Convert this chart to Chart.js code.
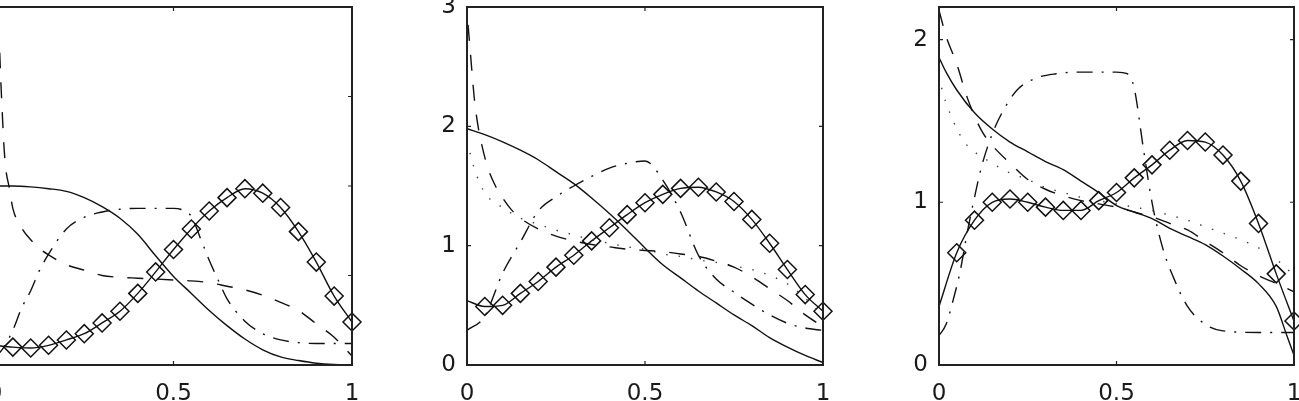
<!DOCTYPE html>
<html>
<head>
<meta charset="utf-8">
<script src="https://cdn.jsdelivr.net/npm/chart.js@4.4.1/dist/chart.umd.min.js"></script>
<style>
  html, body { margin: 0; padding: 0; background: #fff; width: 1299px; height: 401px; overflow: hidden; position: relative; }
  canvas { position: absolute; top: -20px; }
</style>
</head>
<body>
<canvas id="panel1" width="435" height="421" style="left:-59px"></canvas>
<canvas id="panel2" width="434" height="421" style="left:413px"></canvas>
<canvas id="panel3" width="433" height="421" style="left:885px"></canvas>
<script>
// shared x grid (diamond curves sit on 0.05 steps)
const gridX = [0, 0.05, 0.1, 0.15, 0.2, 0.25, 0.3, 0.35, 0.4, 0.45, 0.5,
               0.55, 0.6, 0.65, 0.7, 0.75, 0.8, 0.85, 0.9, 0.95, 1];
const xTicks = [0, 0.5, 1];

// PANEL 1
const p1YTicks = [0, 1, 2, 3, 4];
const p1SolidY = [2.00, 2.00, 1.99, 1.97, 1.94, 1.87, 1.77, 1.64, 1.46, 1.22, 0.99,
                  0.80, 0.61, 0.44, 0.29, 0.17, 0.09, 0.05, 0.02, 0.005, 0];
const p1DiamondY = [0.22, 0.20, 0.19, 0.22, 0.28, 0.35, 0.47, 0.60, 0.80, 1.04, 1.29,
                    1.52, 1.72, 1.87, 1.97, 1.92, 1.76, 1.49, 1.15, 0.77, 0.48];
const p1DashX = [0.005, 0.015, 0.02, 0.025, 0.03, 0.04, 0.05, 0.075, 0.1, 0.125, 0.15, 0.2,
                 0.25, 0.3, 0.35, 0.4, 0.45, 0.5, 0.55, 0.6, 0.65, 0.7, 0.75, 0.8, 0.85, 0.9, 0.95, 1];
const p1DashY = [4.5, 3.3, 2.85, 2.45, 2.2, 1.98, 1.75, 1.53, 1.40, 1.30, 1.23, 1.12,
                 1.06, 1.00, 0.98, 0.97, 0.96, 0.95, 0.94, 0.92, 0.88, 0.84, 0.78, 0.70, 0.61, 0.46, 0.31, 0.10];
const p1DashDotX = [0, 0.025, 0.05, 0.075, 0.1, 0.125, 0.15, 0.2, 0.25, 0.3, 0.35, 0.4, 0.45, 0.5,
                    0.52, 0.55, 0.575, 0.6, 0.625, 0.65, 0.7, 0.75, 0.8, 0.85, 0.9, 0.95, 1];
const p1DashDotY = [0.08, 0.20, 0.39, 0.64, 0.83, 1.06, 1.24, 1.52, 1.65, 1.71, 1.74, 1.75, 1.75, 1.75,
                    1.74, 1.66, 1.42, 1.17, 0.95, 0.74, 0.49, 0.35, 0.28, 0.25, 0.24, 0.24, 0.24];

// PANEL 2
const p2YTicks = [0, 1, 2, 3];
const p2SolidY = [1.98, 1.93, 1.87, 1.80, 1.72, 1.62, 1.52, 1.40, 1.27, 1.13, 0.98,
                  0.84, 0.73, 0.62, 0.52, 0.42, 0.33, 0.23, 0.15, 0.08, 0.02];
const p2DiamondY = [0.54, 0.49, 0.50, 0.60, 0.70, 0.82, 0.92, 1.04, 1.15, 1.26, 1.36,
                    1.43, 1.48, 1.49, 1.45, 1.37, 1.22, 1.02, 0.80, 0.59, 0.45];
const p2DashX = [0.003, 0.01, 0.02, 0.03, 0.045, 0.06, 0.08, 0.1, 0.125, 0.15, 0.2, 0.25, 0.3, 0.35,
                 0.4, 0.45, 0.5, 0.55, 0.6, 0.65, 0.7, 0.75, 0.8, 0.85, 0.9, 0.95, 1];
const p2DashY = [2.85, 2.6, 2.25, 2.02, 1.80, 1.64, 1.50, 1.40, 1.30, 1.23, 1.14, 1.08, 1.04, 1.01,
                 0.99, 0.97, 0.96, 0.95, 0.93, 0.91, 0.87, 0.82, 0.74, 0.64, 0.54, 0.42, 0.32];
const p2DashDotY = [0.29, 0.41, 0.77, 1.03, 1.29, 1.41, 1.50, 1.58, 1.65, 1.69, 1.71,
                    1.55, 1.28, 0.92, 0.72, 0.61, 0.51, 0.42, 0.35, 0.31, 0.29];
const p2DotX = [0, 0.01, 0.02, 0.035, 0.055, 0.08, 0.11, 0.15, 0.2, 0.25, 0.3, 0.35, 0.4,
                0.45, 0.5, 0.55, 0.6, 0.65, 0.7, 0.75, 0.8, 0.85, 0.9, 0.95, 1];
const p2DotY = [1.88, 1.76, 1.65, 1.53, 1.42, 1.36, 1.30, 1.23, 1.18, 1.13, 1.09, 1.05, 1.02,
                0.99, 0.97, 0.93, 0.91, 0.88, 0.86, 0.83, 0.80, 0.75, 0.68, 0.56, 0.40];

// PANEL 3
const p3YTicks = [0, 1, 2];
const p3SolidX = [0, 0.02, 0.05, 0.1, 0.15, 0.2, 0.25, 0.3, 0.35, 0.4, 0.45, 0.5, 0.55,
                  0.6, 0.65, 0.7, 0.75, 0.8, 0.85, 0.9, 0.95, 0.98, 1];
const p3SolidY = [1.89, 1.80, 1.69, 1.55, 1.45, 1.37, 1.31, 1.25, 1.20, 1.13, 1.06, 0.98, 0.94,
                  0.90, 0.84, 0.79, 0.74, 0.67, 0.59, 0.50, 0.36, 0.18, 0.06];
const p3DiamondY = [0.36, 0.69, 0.89, 1.00, 1.02, 1.00, 0.97, 0.95, 0.95, 1.01, 1.06,
                    1.15, 1.23, 1.32, 1.38, 1.37, 1.29, 1.13, 0.87, 0.56, 0.27];
const p3DashX = [0, 0.02, 0.05, 0.08, 0.12, 0.15, 0.2, 0.25, 0.3, 0.35, 0.4, 0.45, 0.5,
                 0.55, 0.6, 0.65, 0.7, 0.75, 0.8, 0.85, 0.9, 0.95, 1];
const p3DashY = [2.18, 2.02, 1.85, 1.64, 1.44, 1.35, 1.24, 1.14, 1.08, 1.04, 1.01, 0.99, 0.97,
                 0.94, 0.91, 0.87, 0.83, 0.76, 0.69, 0.61, 0.55, 0.50, 0.45];
const p3DashDotX = [0, 0.02, 0.04, 0.06, 0.08, 0.1, 0.12, 0.15, 0.18, 0.22, 0.27, 0.33, 0.4, 0.5,
                    0.53, 0.55, 0.575, 0.6, 0.63, 0.66, 0.7, 0.75, 0.8, 0.9, 1];
const p3DashDotY = [0.18, 0.25, 0.40, 0.58, 0.82, 1.03, 1.22, 1.42, 1.56, 1.69, 1.76, 1.79, 1.80, 1.80,
                    1.79, 1.70, 1.34, 1.00, 0.72, 0.54, 0.36, 0.25, 0.21, 0.20, 0.20];
const p3DotX = [0, 0.01, 0.025, 0.04, 0.055, 0.075, 0.1, 0.15, 0.2, 0.25, 0.3, 0.35, 0.4,
                0.45, 0.5, 0.55, 0.6, 0.65, 0.7, 0.75, 0.8, 0.85, 0.9, 0.95, 1];
const p3DotY = [1.78, 1.68, 1.58, 1.50, 1.43, 1.36, 1.31, 1.24, 1.18, 1.14, 1.09, 1.06, 1.03,
                1.01, 0.99, 0.97, 0.95, 0.92, 0.89, 0.85, 0.81, 0.77, 0.72, 0.65, 0.55];

Chart.defaults.font.family = '"DejaVu Sans", "Liberation Sans", sans-serif';
Chart.defaults.font.size = 23;
Chart.defaults.color = '#1a1a1a';

const INK = '#111';
const DASH = [16, 14];
const DASHDOT = [16, 9, 2, 9];
const DOT = [1.5, 11];

function curve(xs, ys, dash, color) {
    return {
        data: xs.map((x, i) => ({ x: x, y: ys[i] })),
        borderColor: color || INK,
        borderWidth: 1.4,
        borderDash: dash,
        borderCapStyle: 'butt',
        pointRadius: 0,
        cubicInterpolationMode: 'monotone',
        fill: false
    };
}

function diamondCurve(ys) {
    return {
        data: gridX.map((x, i) => ({ x: x, y: ys[i] })),
        borderColor: INK,
        borderWidth: 1.4,
        cubicInterpolationMode: 'monotone',
        pointStyle: 'rectRot',
        pointRadius: gridX.map((x, i) => i === 0 ? 0 : 9),
        pointBorderColor: INK,
        pointBorderWidth: 1.5,
        pointBackgroundColor: 'rgba(0,0,0,0)',
        clip: 14,
        fill: false
    };
}

// box round the plot with ticks pointing inwards on all sides
const boxTicks = {
    id: 'boxTicks',
    afterDatasetsDraw(chart) {
        const ctx = chart.ctx;
        const a = chart.chartArea;
        const xs = chart.scales.x;
        const ys = chart.scales.y;
        ctx.save();
        ctx.strokeStyle = '#222';
        ctx.lineWidth = 1.2;
        ctx.beginPath();
        xs.ticks.forEach(t => {
            const px = xs.getPixelForValue(t.value);
            ctx.moveTo(px, a.bottom); ctx.lineTo(px, a.bottom - 4);
            ctx.moveTo(px, a.top); ctx.lineTo(px, a.top + 4);
        });
        ys.ticks.forEach(t => {
            const py = ys.getPixelForValue(t.value);
            ctx.moveTo(a.left, py); ctx.lineTo(a.left + 4, py);
            ctx.moveTo(a.right, py); ctx.lineTo(a.right - 4, py);
        });
        ctx.stroke();
        ctx.lineWidth = 2;
        ctx.strokeRect(a.left, a.top, a.right - a.left, a.bottom - a.top);
        ctx.restore();
    }
};

function makePanel(id, yMax, yTicks, datasets) {
    return new Chart(document.getElementById(id), {
        type: 'line',
        data: { datasets: datasets },
        options: {
            responsive: false,
            animation: false,
            devicePixelRatio: 1,
            layout: { padding: { top: 27, right: 24, left: 0, bottom: 0 } },
            plugins: { legend: { display: false }, tooltip: { enabled: false } },
            scales: {
                x: {
                    type: 'linear', min: 0, max: 1,
                    grid: { display: false, drawTicks: false },
                    border: { display: false },
                    afterBuildTicks: s => { s.ticks = xTicks.map(v => ({ value: v })); },
                    afterFit: s => { s.height = 36; },
                    ticks: { padding: 15, maxRotation: 0, callback: v => String(v) }
                },
                y: {
                    type: 'linear', min: 0, max: yMax,
                    grid: { display: false, drawTicks: false },
                    border: { display: false },
                    afterBuildTicks: s => { s.ticks = yTicks.map(v => ({ value: v })); },
                    afterFit: s => { s.width = 54; },
                    ticks: { padding: 11, callback: v => String(v) }
                }
            }
        },
        plugins: [boxTicks]
    });
}

makePanel('panel1', 4, p1YTicks, [
    curve(gridX, p1SolidY, []),
    curve(p1DashX, p1DashY, DASH),
    curve(p1DashDotX, p1DashDotY, DASHDOT),
    diamondCurve(p1DiamondY)
]);

makePanel('panel2', 3, p2YTicks, [
    curve(gridX, p2SolidY, []),
    curve(p2DashX, p2DashY, DASH),
    curve(p2DotX, p2DotY, DOT, '#444'),
    curve(gridX, p2DashDotY, DASHDOT),
    diamondCurve(p2DiamondY)
]);

makePanel('panel3', 2.2, p3YTicks, [
    curve(p3SolidX, p3SolidY, []),
    curve(p3DashX, p3DashY, DASH),
    curve(p3DotX, p3DotY, DOT, '#444'),
    curve(p3DashDotX, p3DashDotY, DASHDOT),
    diamondCurve(p3DiamondY)
]);
</script>
</body>
</html>
